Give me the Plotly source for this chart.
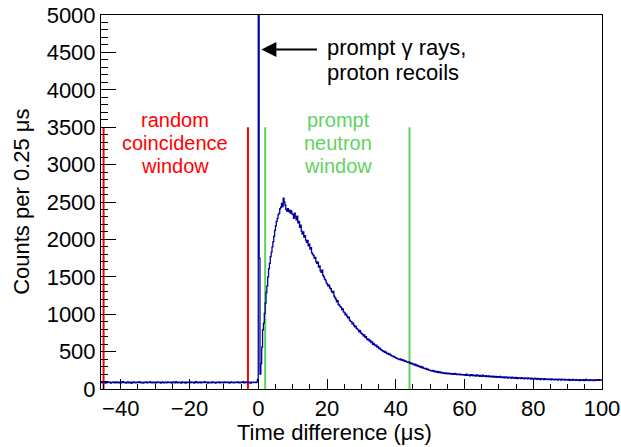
import numpy as np
import plotly.graph_objects as go

# ---------------- data ----------------
bin_width = 0.25          # µs per bin
hist_start = -45.75       # left edge of first bin (µs)

# -45.75 .. 0 µs : flat random background (183 bins)
counts_before = [
    86, 92, 81, 95, 88, 79, 90, 97, 84, 88, 93, 80, 87, 91, 85, 96, 82, 89, 94, 83,
    88, 90, 78, 92, 86, 99, 84, 87, 91, 80, 89, 95, 83, 88, 92, 77, 90, 86, 94, 85,
    81, 93, 88, 84, 97, 89, 82, 91, 86, 79, 92, 88, 95, 83, 87, 90, 84, 98, 86, 82,
    90, 85, 93, 80, 88, 96, 84, 89, 91, 78, 87, 94, 86, 83, 92, 89, 81, 95, 88, 84,
    91, 87, 79, 94, 86, 90, 83, 97, 88, 82, 93, 85, 89, 80, 96, 87, 84, 91, 78, 90,
    86, 93, 89, 81, 95, 84, 88, 92, 80, 87, 98, 85, 90, 83, 89, 94, 82, 88, 91, 85,
    97, 84, 88, 90, 79, 93, 86, 89, 82, 95, 87, 91, 84, 80, 92, 88, 85, 96, 83, 89,
    90, 86, 81, 94, 88, 84, 91, 87, 93, 79, 89, 96, 85, 88, 82, 92, 86, 90, 84, 95,
    87, 83, 92, 89, 85, 98, 81, 90, 86, 94, 88, 83, 91, 87, 80, 93, 89, 85, 92, 88,
    84, 91, 128,
]
# 0 .. 10 µs : prompt spike and rise to the neutron peak
counts_0_10 = [
    5600, 1750, 200, 340, 560, 790, 880, 1010, 1150, 1290,
    1380, 1500, 1610, 1680, 1770, 1830, 1900, 1970, 2040, 2120,
    2180, 2240, 2280, 2330, 2350, 2410, 2430, 2480, 2440, 2550,
    2500, 2460, 2400, 2380, 2410, 2370, 2390, 2350, 2380, 2340,
]
# 10 .. 20 µs
counts_10_20 = [
    2330, 2280, 2350, 2300, 2260, 2310, 2220, 2240, 2160, 2190,
    2110, 2070, 2100, 2030, 2050, 1990, 1960, 1985, 1915, 1935,
    1870, 1890, 1820, 1800, 1785, 1745, 1760, 1700, 1680, 1695,
    1630, 1645, 1580, 1560, 1590, 1520, 1500, 1470, 1455, 1420,
]
# 20 .. 30 µs
counts_20_30 = [
    1400, 1375, 1390, 1350, 1340, 1305, 1290, 1305, 1240, 1220,
    1200, 1165, 1180, 1130, 1120, 1100, 1090, 1060, 1070, 1030,
    1020, 990, 1000, 970, 950, 960, 920, 905, 900, 870,
    880, 850, 830, 840, 810, 800, 790, 765, 780, 750,
]
# 30 .. 40 µs
counts_30_40 = [
    740, 730, 712, 722, 690, 700, 670, 658, 665, 640,
    650, 620, 630, 598, 610, 590, 578, 586, 560, 565,
    540, 546, 530, 520, 515, 500, 505, 490, 495, 478,
    470, 476, 460, 466, 450, 444, 440, 430, 436, 420,
]
# 40 .. 50 µs
counts_40_50 = [
    415, 409, 404, 399, 394, 401, 385, 391, 380, 386,
    369, 376, 365, 359, 355, 361, 344, 350, 335, 341,
    330, 324, 331, 314, 321, 305, 311, 299, 294, 301,
    284, 291, 280, 274, 269, 276, 260, 266, 255, 250,
]
# 50 .. 60 µs
counts_50_60 = [
    250, 243, 238, 247, 233, 239, 228, 234, 224, 231,
    220, 227, 216, 223, 213, 220, 210, 206, 215, 207,
    203, 211, 201, 208, 199, 206, 197, 204, 209, 196,
    201, 193, 199, 191, 197, 190, 195, 188, 193, 186,
]
# 60 .. 70 µs
counts_60_70 = [
    192, 184, 199, 181, 190, 186, 177, 193, 183, 188,
    175, 186, 180, 172, 189, 178, 183, 170, 181, 174,
    168, 184, 172, 176, 165, 179, 170, 167, 175, 162,
    171, 166, 158, 173, 164, 160, 169, 157, 166, 161,
]
# 70 .. 80 µs
counts_70_80 = [
    155, 168, 160, 152, 163, 157, 149, 161, 154, 158,
    146, 160, 151, 155, 144, 157, 149, 152, 143, 155,
    147, 140, 153, 145, 149, 138, 151, 143, 146, 137,
    149, 141, 144, 135, 147, 139, 142, 133, 145, 137,
]
# 80 .. 90 µs
counts_80_90 = [
    140, 131, 144, 136, 129, 141, 134, 138, 127, 139,
    132, 135, 125, 137, 130, 133, 124, 136, 128, 131,
    122, 134, 127, 130, 121, 133, 126, 129, 120, 132,
    125, 128, 119, 131, 124, 127, 118, 130, 123, 126,
]
# 90 .. 100 µs
counts_90_100 = [
    120, 128, 117, 125, 121, 115, 127, 119, 123, 114,
    126, 118, 122, 113, 125, 117, 121, 116, 124, 112,
    120, 127, 115, 122, 118, 113, 125, 119, 116, 123,
    111, 121, 117, 124, 114, 120, 126, 115, 119, 122,
]

random_window = [-45, -3]     # µs
prompt_window = [2, 44]       # µs
window_marker_height = 3500   # counts

x_ticks = [-40, -20, 0, 20, 40, 60, 80, 100]
y_ticks = [0, 500, 1000, 1500, 2000, 2500, 3000, 3500, 4000, 4500, 5000]

# ---------------- build ----------------
counts = np.array(
    counts_before + counts_0_10 + counts_10_20 + counts_20_30 + counts_30_40
    + counts_40_50 + counts_50_60 + counts_60_70 + counts_70_80 + counts_80_90
    + counts_90_100, dtype=float)
edges = hist_start + bin_width * np.arange(len(counts) + 1)
y_step = np.append(counts, counts[-1])

FONT = "Liberation Sans, Arial, Helvetica, sans-serif"
FS = 22
FS_WIN = 20
BLUE = "#000099"
RED = "#ff0000"
GREEN = "#5fd35f"

fig = go.Figure()

def vlines(xs, color):
    xx, yy = [], []
    for v in xs:
        xx += [v, v, None]
        yy += [0, window_marker_height, None]
    fig.add_trace(go.Scatter(x=xx, y=yy, mode="lines",
                             line=dict(color=color, width=2),
                             hoverinfo="skip", showlegend=False))

vlines(random_window, RED)
vlines(prompt_window, GREEN)

fig.add_trace(go.Scatter(x=edges, y=y_step, mode="lines", line_shape="hv",
                         line=dict(color=BLUE, width=1.3), showlegend=False))

axis_common = dict(showline=True, linecolor="black", linewidth=1, mirror=True,
                   showgrid=False, zeroline=False, ticks="inside",
                   tickcolor="black", tickwidth=1, automargin=False,
                   ticklabeloverflow="allow",
                   tickfont=dict(family=FONT, size=FS, color="black"))

fig.update_xaxes(range=[hist_start, 100], tickvals=x_ticks, ticklen=10,
                 minor=dict(dtick=5, tick0=0, ticks="inside", ticklen=5,
                            tickcolor="black", tickwidth=1),
                 **axis_common)
fig.update_yaxes(range=[0, 5000], tickvals=y_ticks, ticklen=15,
                 minor=dict(dtick=100, tick0=0, ticks="inside", ticklen=7,
                            tickcolor="black", tickwidth=1),
                 **axis_common)

ann = []
# axis titles
ann.append(dict(text="Time difference (μs)", xref="paper", yref="paper",
                x=0.467, y=-0.115, xanchor="center", yanchor="middle",
                showarrow=False, font=dict(family=FONT, size=FS, color="black")))
ann.append(dict(text="Counts per 0.25 μs", xref="paper", yref="paper",
                x=-0.16, y=0.5, xanchor="center", yanchor="middle", textangle=-90,
                showarrow=False, font=dict(family=FONT, size=FS, color="black")))
# arrow to prompt peak
ann.append(dict(text="", x=0.9, y=4540, ax=17.5, ay=4540, xref="x", yref="y",
                axref="x", ayref="y", showarrow=True, arrowhead=2, arrowsize=1.5,
                arrowwidth=2, arrowcolor="black"))
for i, line in enumerate(["prompt γ rays,", "proton recoils"]):
    ann.append(dict(text=line, xref="x", yref="y", x=19.4, y=4570 - i * 335,
                    xanchor="left", yanchor="middle", showarrow=False,
                    font=dict(family=FONT, size=FS, color="black")))
for i, line in enumerate(["random", "coincidence", "window"]):
    ann.append(dict(text=line, xref="x", yref="y", x=-24.2, y=3590 - i * 307,
                    xanchor="center", yanchor="middle", showarrow=False,
                    font=dict(family=FONT, size=FS_WIN, color=RED)))
for i, line in enumerate(["prompt", "neutron", "window"]):
    ann.append(dict(text=line, xref="x", yref="y", x=23.2, y=3590 - i * 307,
                    xanchor="center", yanchor="middle", showarrow=False,
                    font=dict(family=FONT, size=FS_WIN, color=GREEN)))

fig.update_layout(width=621, height=447,
                  margin=dict(l=101, r=19, t=15, b=58, autoexpand=False),
                  paper_bgcolor="white", plot_bgcolor="white",
                  showlegend=False, annotations=ann, hovermode=False,
                  font=dict(family=FONT, size=FS, color="black"))

# remove the browser's default 8 px body margin so the figure fills the window
fig.write_html("out.html",
               config={"displayModeBar": False, "staticPlot": True},
               post_script="document.body.style.margin='0px';"
                           "document.body.style.overflow='hidden';")
